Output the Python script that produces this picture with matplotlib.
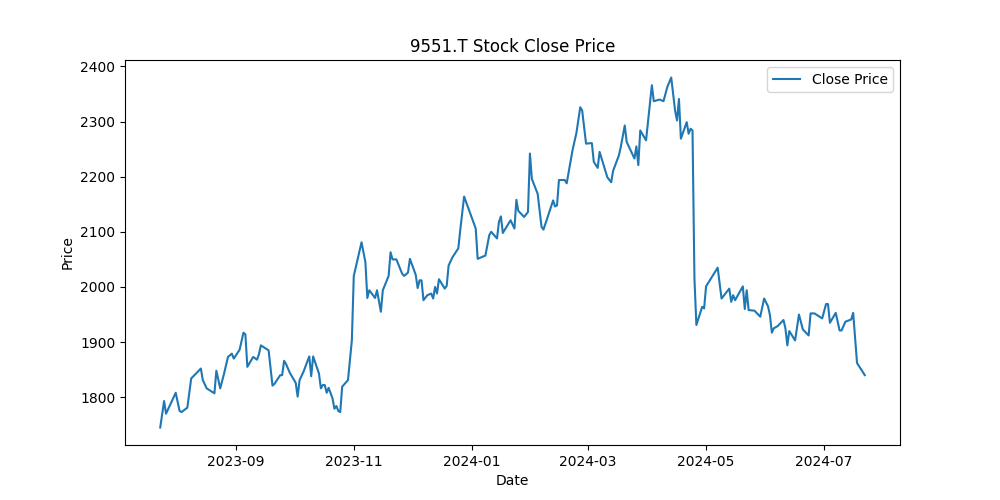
import matplotlib
matplotlib.use("Agg")
import matplotlib.pyplot as plt
import pandas as pd

# closing prices (turning points of the line)
dates = [
    "2023-07-24", "2023-07-26", "2023-07-27", "2023-08-01", "2023-08-03", "2023-08-04",
    "2023-08-07", "2023-08-08", "2023-08-09", "2023-08-14", "2023-08-15", "2023-08-17",
    "2023-08-21", "2023-08-22", "2023-08-24", "2023-08-26", "2023-08-28", "2023-08-30",
    "2023-08-31", "2023-09-03", "2023-09-05", "2023-09-06", "2023-09-07", "2023-09-10",
    "2023-09-12", "2023-09-13", "2023-09-14", "2023-09-18", "2023-09-20", "2023-09-21",
    "2023-09-24", "2023-09-25", "2023-09-26", "2023-09-27", "2023-09-29", "2023-10-02",
    "2023-10-03", "2023-10-04", "2023-10-06", "2023-10-09", "2023-10-10", "2023-10-11",
    "2023-10-14", "2023-10-15", "2023-10-16", "2023-10-17", "2023-10-18", "2023-10-19",
    "2023-10-21", "2023-10-22", "2023-10-23", "2023-10-24", "2023-10-25", "2023-10-26",
    "2023-10-29", "2023-10-31", "2023-11-01", "2023-11-05", "2023-11-07", "2023-11-08",
    "2023-11-09", "2023-11-12", "2023-11-13", "2023-11-15", "2023-11-16", "2023-11-19",
    "2023-11-20", "2023-11-21", "2023-11-23", "2023-11-26", "2023-11-27", "2023-11-29",
    "2023-11-30", "2023-12-03", "2023-12-04", "2023-12-05", "2023-12-06", "2023-12-07",
    "2023-12-09", "2023-12-11", "2023-12-12", "2023-12-13", "2023-12-14", "2023-12-15",
    "2023-12-18", "2023-12-19", "2023-12-20", "2023-12-22", "2023-12-25", "2023-12-26",
    "2023-12-28", "2024-01-03", "2024-01-04", "2024-01-08", "2024-01-10", "2024-01-11",
    "2024-01-14", "2024-01-15", "2024-01-16", "2024-01-17", "2024-01-21", "2024-01-23",
    "2024-01-24", "2024-01-25", "2024-01-28", "2024-01-30", "2024-01-31", "2024-02-01",
    "2024-02-04", "2024-02-06", "2024-02-07", "2024-02-12", "2024-02-13", "2024-02-14",
    "2024-02-15", "2024-02-18", "2024-02-19", "2024-02-21", "2024-02-22", "2024-02-24",
    "2024-02-26", "2024-02-27", "2024-02-29", "2024-03-03", "2024-03-04", "2024-03-06",
    "2024-03-07", "2024-03-11", "2024-03-13", "2024-03-14", "2024-03-17", "2024-03-18",
    "2024-03-20", "2024-03-21", "2024-03-25", "2024-03-26", "2024-03-27", "2024-03-28",
    "2024-03-31", "2024-04-03", "2024-04-04", "2024-04-07", "2024-04-09", "2024-04-11",
    "2024-04-13", "2024-04-15", "2024-04-16", "2024-04-17", "2024-04-18", "2024-04-21",
    "2024-04-22", "2024-04-23", "2024-04-24", "2024-04-25", "2024-04-26", "2024-04-29",
    "2024-04-30", "2024-05-01", "2024-05-07", "2024-05-09", "2024-05-13", "2024-05-14",
    "2024-05-15", "2024-05-16", "2024-05-20", "2024-05-21", "2024-05-22", "2024-05-23",
    "2024-05-26", "2024-05-29", "2024-05-31", "2024-06-02", "2024-06-03", "2024-06-04",
    "2024-06-05", "2024-06-07", "2024-06-10", "2024-06-11", "2024-06-12", "2024-06-13",
    "2024-06-16", "2024-06-18", "2024-06-20", "2024-06-23", "2024-06-24", "2024-06-26",
    "2024-06-30", "2024-07-02", "2024-07-03", "2024-07-04", "2024-07-07", "2024-07-09",
    "2024-07-10", "2024-07-12", "2024-07-15", "2024-07-16", "2024-07-18", "2024-07-22",
]
close = [
    1745, 1793, 1770, 1808, 1775, 1773,
    1781, 1808, 1834, 1852, 1831, 1816,
    1807, 1848, 1816, 1843, 1873, 1879,
    1870, 1886, 1917, 1914, 1855, 1873,
    1868, 1878, 1894, 1885, 1821, 1824,
    1840, 1840, 1866, 1860, 1844, 1826,
    1801, 1831, 1846, 1874, 1838, 1874,
    1843, 1816, 1822, 1822, 1808, 1817,
    1798, 1779, 1784, 1775, 1773, 1819,
    1831, 1903, 2020, 2081, 2045, 1980,
    1994, 1980, 1994, 1955, 1994, 2020,
    2063, 2050, 2050, 2024, 2020, 2026,
    2051, 2022, 1998, 2012, 2012, 1976,
    1985, 1988, 1979, 2000, 1988, 2014,
    1997, 2002, 2039, 2054, 2070, 2103,
    2164, 2106, 2051, 2057, 2094, 2100,
    2088, 2118, 2128, 2098, 2121, 2106,
    2158, 2138, 2127, 2136, 2242, 2196,
    2169, 2109, 2104, 2157, 2146, 2148,
    2194, 2194, 2188, 2228, 2248, 2279,
    2326, 2320, 2260, 2261, 2227, 2216,
    2245, 2199, 2190, 2211, 2239, 2255,
    2293, 2263, 2233, 2255, 2221, 2284,
    2266, 2366, 2337, 2340, 2337, 2363,
    2380, 2320, 2302, 2341, 2269, 2299,
    2278, 2287, 2284, 2015, 1931, 1964,
    1961, 2001, 2035, 1979, 1997, 1973,
    1985, 1976, 2001, 1960, 1994, 1958,
    1957, 1946, 1979, 1965, 1949, 1917,
    1925, 1929, 1940, 1925, 1894, 1920,
    1903, 1950, 1923, 1912, 1952, 1952,
    1943, 1969, 1969, 1935, 1953, 1921,
    1921, 1937, 1941, 1953, 1862, 1840,
]

x = pd.to_datetime(dates)

fig, ax = plt.subplots(figsize=(10, 5), dpi=100)
ax.plot(x, close, label="Close Price")
ax.set_title("9551.T Stock Close Price")
ax.set_xlabel("Date")
ax.set_ylabel("Price")
ax.legend()

plt.savefig("out.png")
plt.close()
